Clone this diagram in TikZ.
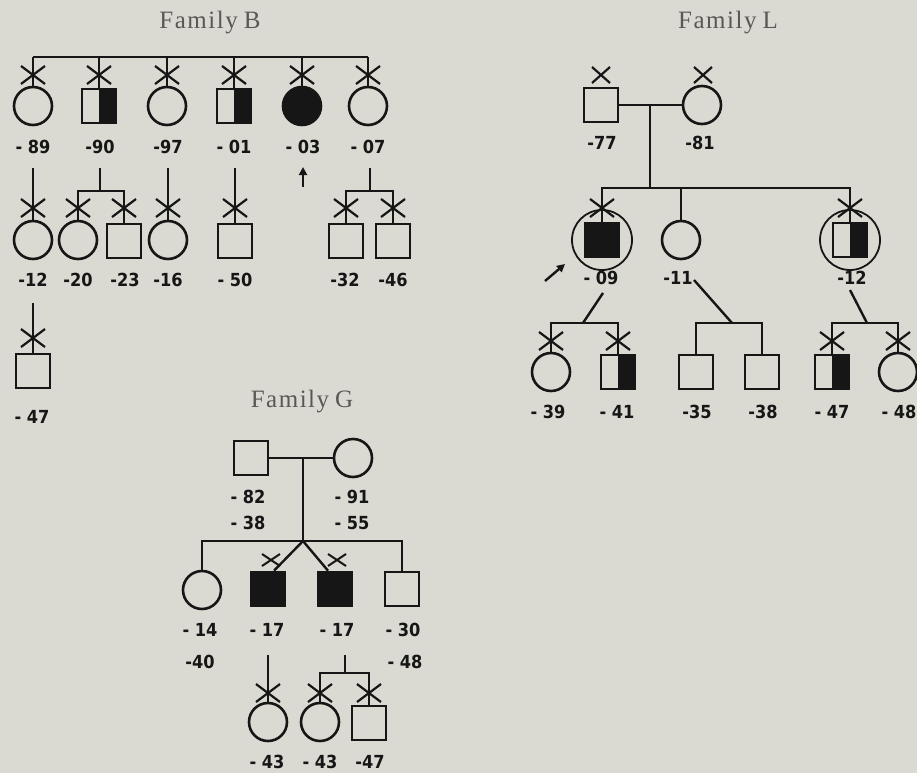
\documentclass[tikz,border=0pt]{standalone}
\usepackage{fontspec}
\newfontfamily\numfont{DejaVu Sans Condensed}
\newfontfamily\ttlfont[LetterSpace=6]{Liberation Serif}
\usetikzlibrary{arrows.meta,calc}
\definecolor{bg}{RGB}{219,218,210}
\definecolor{ink}{RGB}{22,22,22}
\definecolor{titlecol}{RGB}{88,88,85}
\tikzset{
  fem/.style={circle, draw=ink, line width=2.6pt, minimum size=38pt, inner sep=0pt},
  mal/.style={rectangle, draw=ink, line width=2.6pt, minimum size=34pt, inner sep=0pt},
  ring/.style={circle, draw=ink, line width=1.8pt, minimum size=60pt, inner sep=0pt},
  aff/.style={fill=ink},
  half/.style={path picture={\fill[ink] (path picture bounding box.north) rectangle (path picture bounding box.south east);}},
  lbl/.style={font=\numfont\bfseries\fontsize{18}{18}\selectfont, text=ink, inner sep=0pt},
  ttl/.style={font=\ttlfont\fontsize{25}{25}\selectfont, text=titlecol, inner sep=0pt},
  ln/.style={draw=ink, line width=2.4pt},
  arr/.style={draw=ink, line width=2.4pt, -{Triangle[length=8pt,width=8pt]}},
  xm/.pic={\draw[ink,line width=2.2pt] (-12,-9) -- (12,9) (-12,9) -- (12,-9);},
  xt/.pic={\draw[ink,line width=2.2pt] (-9,-8) -- (9,8) (-9,8) -- (9,-8);},
  xs/.pic={\draw[ink,line width=2pt] (-9,-6) -- (9,6) (-9,6) -- (9,-6);}
}
\begin{document}
\begin{tikzpicture}[x=1pt,y=-1pt]
\fill[bg] (0,0) rectangle (917,773);
\useasboundingbox (0,0) rectangle (917,773);

% ================= Family B =================
\node[ttl] (tB) at (210,23) {Family\hspace{6pt}B};
\node[fem] (b89) at (33,106) {};
\node[mal,half] (b90) at (99,106) {};
\node[fem] (b97) at (167,106) {};
\node[mal,half] (b01) at (234,106) {};
\node[fem,aff] (b03) at (302,106) {};
\node[fem] (b07) at (368,106) {};
\coordinate (bL) at (33,57);
\coordinate (bR) at (368,57);
\draw[ln] (bL) -- (bR);
\foreach \n in {b89,b90,b97,b01,b03,b07} {
  \draw[ln] (\n.north) -- (\n.north |- bL);
  \pic at ($(\n.north |- bL)+(0,18)$) {xm};
}
\node[lbl] (l-b89) at (33,147) {- 89};
\node[lbl] (l-b90) at (100,147) {-90};
\node[lbl] (l-b97) at (168,147) {-97};
\node[lbl] (l-b01) at (234,147) {- 01};
\node[lbl] (l-b03) at (303,147) {- 03};
\node[lbl] (l-b07) at (368,147) {- 07};
\coordinate (barrA) at (303,187);
\coordinate (barrB) at (303,167);
\draw[arr] (barrA) -- (barrB);

% generation 2
\node[fem] (b12) at (33,240) {};
\node[fem] (b20) at (78,240) {};
\node[mal] (b23) at (124,241) {};
\node[fem] (b16) at (168,240) {};
\node[mal] (b50) at (235,241) {};
\node[mal] (b32) at (346,241) {};
\node[mal] (b46) at (393,241) {};
\coordinate (b89d) at (33,168);
\coordinate (b90d) at (100,168);
\coordinate (b90s) at (100,191);
\coordinate (b97d) at (168,168);
\coordinate (b01d) at (235,168);
\coordinate (b07d) at (370,168);
\coordinate (b07s) at (370,191);
\draw[ln] (b89d) -- (b12.north);
\draw[ln] (b90d) -- (b90s);
\draw[ln] (b20.north) -- (b20.north |- b90s) -- (b23.north |- b90s) -- (b23.north);
\draw[ln] (b97d) -- (b16.north);
\draw[ln] (b01d) -- (b50.north);
\draw[ln] (b07d) -- (b07s);
\draw[ln] (b32.north) -- (b32.north |- b07s) -- (b46.north |- b07s) -- (b46.north);
\foreach \n in {b12,b20,b23,b16,b50,b32,b46} {
  \pic at (\n.north |- 0,208) {xm};
}
\node[lbl] (l-b12) at (33,280) {-12};
\node[lbl] (l-b20) at (78,280) {-20};
\node[lbl] (l-b23) at (125,280) {-23};
\node[lbl] (l-b16) at (168,280) {-16};
\node[lbl] (l-b50) at (235,280) {- 50};
\node[lbl] (l-b32) at (345,280) {-32};
\node[lbl] (l-b46) at (393,280) {-46};

% generation 3
\node[mal] (b47) at (33,371) {};
\coordinate (b12d) at (33,303);
\draw[ln] (b12d) -- (b47.north);
\pic at (33,338) {xm};
\node[lbl] (l-b47) at (32,417) {- 47};

% ================= Family L =================
\node[ttl] (tL) at (728,23) {Family\hspace{6pt}L};
\node[mal] (l77) at (601,105) {};
\node[fem] (l81) at (702,105) {};
\pic at (601,75) {xt};
\pic at (703,75) {xt};
\draw[ln] (l77.east) -- (l81.west);
\coordinate (lm) at (650,105);
\coordinate (lmd) at (650,188);
\draw[ln] (lm) -- (lmd);
\node[lbl] (l-l77) at (602,143) {-77};
\node[lbl] (l-l81) at (700,143) {-81};

\node[ring] (l09r) at (602,240) {};
\node[mal,aff] (l09) at (602,240) {};
\node[fem] (l11) at (681,240) {};
\node[ring] (l12r) at (850,240) {};
\node[mal,half] (l12) at (850,240) {};
\draw[ln] (l09.north) -- (l09.north |- lmd) -- (l12.north |- lmd) -- (l12.north);
\draw[ln] (l11.north) -- (l11.north |- lmd);
\pic at (l09.north |- 0,208) {xm};
\pic at (l12.north |- 0,208) {xm};
\node[lbl] (l-l09) at (601,278) {- 09};
\node[lbl] (l-l11) at (678,278) {-11};
\node[lbl] (l-l12) at (852,278) {-12};
\coordinate (larrA) at (545,281);
\coordinate (larrB) at (565,264);
\draw[arr] (larrA) -- (larrB);

% generation 3
\node[fem] (l39) at (551,372) {};
\node[mal,half] (l41) at (618,372) {};
\node[mal] (l35) at (696,372) {};
\node[mal] (l38) at (762,372) {};
\node[mal,half] (l47) at (832,372) {};
\node[fem] (l48) at (898,372) {};
\coordinate (l09a) at (603,293);
\coordinate (l09b) at (583,323);
\coordinate (l11a) at (694,280);
\coordinate (l11b) at (732,323);
\coordinate (l12a) at (850,290);
\coordinate (l12b) at (867,323);
\draw[ln] (l09a) -- (l09b);
\draw[ln] (l39.north) -- (l39.north |- l09b) -- (l41.north |- l09b) -- (l41.north);
\draw[ln] (l11a) -- (l11b);
\draw[ln] (l35.north) -- (l35.north |- l11b) -- (l38.north |- l11b) -- (l38.north);
\draw[ln] (l12a) -- (l12b);
\draw[ln] (l47.north) -- (l47.north |- l12b) -- (l48.north |- l12b) -- (l48.north);
\foreach \n in {l39,l41,l47,l48} {
  \pic at (\n.north |- 0,341) {xm};
}
\node[lbl] (l-l39) at (548,412) {- 39};
\node[lbl] (l-l41) at (617,412) {- 41};
\node[lbl] (l-l35) at (697,412) {-35};
\node[lbl] (l-l38) at (763,412) {-38};
\node[lbl] (l-l47) at (832,412) {- 47};
\node[lbl] (l-l48) at (899,412) {- 48};

% ================= Family G =================
\node[ttl] (tG) at (302,402) {Family\hspace{6pt}G};
\node[mal] (g82) at (251,458) {};
\node[fem] (g91) at (353,458) {};
\draw[ln] (g82.east) -- (g91.west);
\coordinate (gm) at (303,458);
\coordinate (gmd) at (303,541);
\draw[ln] (gm) -- (gmd);
\node[lbl] (l-g82) at (248,497) {- 82};
\node[lbl] (l-g38) at (248,523) {- 38};
\node[lbl] (l-g91) at (352,497) {- 91};
\node[lbl] (l-g55) at (352,523) {- 55};

\node[fem] (g14) at (202,590) {};
\node[mal,aff] (g17a) at (268,589) {};
\node[mal,aff] (g17b) at (335,589) {};
\node[mal] (g30) at (402,589) {};
\draw[ln] (g14.north) -- (g14.north |- gmd) -- (g30.north |- gmd) -- (g30.north);
\draw[ln] (gmd) -- ([xshift=6pt]g17a.north);
\draw[ln] (gmd) -- ([xshift=-7pt]g17b.north);
\pic at (271,560) {xs};
\pic at (337,560) {xs};
\node[lbl] (l-g14) at (200,630) {- 14};
\node[lbl] (l-g40) at (200,662) {-40};
\node[lbl] (l-g17a) at (267,630) {- 17};
\node[lbl] (l-g17b) at (337,630) {- 17};
\node[lbl] (l-g30) at (403,630) {- 30};
\node[lbl] (l-g48) at (405,662) {- 48};

% generation 3
\node[fem] (g43a) at (268,722) {};
\node[fem] (g43b) at (320,722) {};
\node[mal] (g47) at (369,723) {};
\coordinate (g17ad) at (268,655);
\coordinate (g17bd) at (345,655);
\coordinate (g17bs) at (345,673);
\draw[ln] (g17ad) -- (g43a.north);
\draw[ln] (g17bd) -- (g17bs);
\draw[ln] (g43b.north) -- (g43b.north |- g17bs) -- (g47.north |- g17bs) -- (g47.north);
\foreach \n in {g43a,g43b,g47} {
  \pic at (\n.north |- 0,693) {xm};
}
\node[lbl] (l-g43a) at (267,762) {- 43};
\node[lbl] (l-g43b) at (320,762) {- 43};
\node[lbl] (l-g47) at (370,762) {-47};
\end{tikzpicture}
\end{document}
